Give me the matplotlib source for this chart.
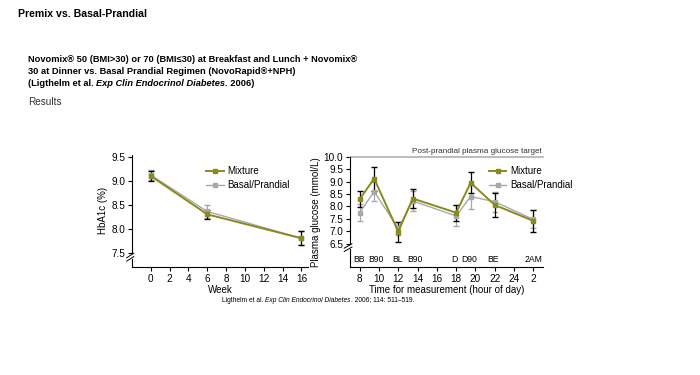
import matplotlib
matplotlib.use("Agg")
import matplotlib.pyplot as plt
import matplotlib.transforms as mtransforms
from matplotlib.lines import Line2D

plt.rcParams['font.family'] = ['Liberation Sans', 'DejaVu Sans']

OLIVE = '#8a8a1c'
GREY = '#a8a8a8'

# HbA1c over time
weeks = [0, 6, 16]
hba1c_mix = [9.10, 8.30, 7.80]
hba1c_mix_err = [0.10, 0.10, 0.15]
hba1c_bp = [9.12, 8.36, 7.80]
hba1c_bp_err = [0.10, 0.14, 0.15]

# Plasma glucose over the day (hour; 26 = 2 AM next day)
hours = [8, 9.5, 12, 13.5, 18, 19.5, 22, 26]
point_names = ['BB', 'B90', 'BL', 'B90', 'D', 'D90', 'BE', '2AM']
name_x = [7.9, 9.7, 11.9, 13.7, 17.8, 19.4, 21.8, 26]
glu_mix = [8.29, 9.12, 6.99, 8.32, 7.75, 8.95, 8.06, 7.42]
glu_mix_err = [0.32, 0.48, 0.40, 0.38, 0.32, 0.42, 0.48, 0.44]
glu_bp = [7.75, 8.60, 7.12, 8.22, 7.62, 8.40, 8.19, 7.48]
glu_bp_err = [0.35, 0.40, 0.25, 0.42, 0.42, 0.50, 0.40, 0.36]
hour_ticks = [8, 10, 12, 14, 16, 18, 20, 22, 24, 26]
hour_labels = ['8', '10', '12', '14', '16', '18', '20', '22', '24', '2']
target = 10.0

fig = plt.figure(figsize=(7, 3.75), dpi=100)
fig.patch.set_facecolor('white')

# header texts
fig.text(18 / 700, 1 - 14 / 375, "Premix vs. Basal-Prandial", fontsize=7.6,
         fontweight='bold', va='center', ha='left')
fig.text(28 / 700, 1 - 60 / 375,
         "Novomix\u00ae 50 (BMI>30) or 70 (BMI\u226430) at Breakfast and Lunch + Novomix\u00ae",
         fontsize=6.7, fontweight='bold', va='center')
fig.text(28 / 700, 1 - 72 / 375,
         "30 at Dinner vs. Basal Prandial Regimen (NovoRapid\u00ae+NPH)",
         fontsize=6.7, fontweight='bold', va='center')
t1 = fig.text(28 / 700, 1 - 84 / 375, "(Ligthelm et al. ", fontsize=6.7,
              fontweight='bold', va='center')
t2 = fig.text(0, 0, "Exp Clin Endocrinol Diabetes", fontsize=6.7, fontweight='bold',
              style='italic', va='center')
t3 = fig.text(0, 0, ". 2006)", fontsize=6.7, fontweight='bold', va='center')
fig.canvas.draw()
r = fig.canvas.get_renderer()


def chain(prev, nxt):
    bb = prev.get_window_extent(r).transformed(fig.transFigure.inverted())
    nxt.set_position((bb.x1, prev.get_position()[1]))


chain(t1, t2)
fig.canvas.draw()
chain(t2, t3)
fig.text(28 / 700, 1 - 102 / 375, "Results", fontsize=7.2, color='#333333', va='center')

# footnote
f1 = fig.text(0, 1 - 300 / 375, "Ligthelm et al. ", fontsize=4.8, va='center')
f2 = fig.text(0, 1 - 300 / 375, "Exp Clin Endocrinol Diabetes", fontsize=4.8,
              style='italic', va='center')
f3 = fig.text(0, 1 - 300 / 375, ". 2006; 114: 511\u2013519.", fontsize=4.8, va='center')
fig.canvas.draw()
w = sum(t.get_window_extent(r).width for t in (f1, f2, f3)) / 700
f1.set_position((318 / 700 - w / 2, 1 - 300 / 375))
fig.canvas.draw()
chain(f1, f2)
fig.canvas.draw()
chain(f2, f3)


def style_axis(ax, brk_y):
    for s in ('top', 'right'):
        ax.spines[s].set_visible(False)
    lo, hi = ax.get_ylim()
    span = hi - lo
    ax.spines['left'].set_bounds(brk_y + 0.05 * span, hi)
    ax.tick_params(axis='both', direction='out', length=3, width=0.8, labelsize=7.2, pad=2)
    # axis break marks on the y spine
    tr = mtransforms.blended_transform_factory(ax.transAxes, ax.transData)
    ax.plot([0, 0], [lo, brk_y], transform=tr, color='black', lw=0.8, clip_on=False)
    for dy in (0.0, 0.03 * span):
        ax.plot([-0.03, 0.01], [brk_y + dy - 0.02 * span, brk_y + dy + 0.02 * span],
                transform=tr, color='black', lw=0.7, clip_on=False)


def add_legend(ax, anchor):
    handles = [Line2D([], [], color=OLIVE, marker='s', ms=3, lw=1.4),
               Line2D([], [], color=GREY, marker='s', ms=2.5, lw=1.0)]
    ax.legend(handles, ['Mixture', 'Basal/Prandial'], loc='upper left',
              bbox_to_anchor=anchor, frameon=False, fontsize=7, handlelength=1.8,
              handletextpad=0.4, labelspacing=0.4, borderaxespad=0)


# Left panel: HbA1c
ax1 = fig.add_axes([132 / 700, 1 - 267 / 375, 176 / 700, 112.5 / 375])
ax1.set_xlim(-2, 16.7)
ax1.set_ylim(7.2, 9.55)
ax1.errorbar(weeks, hba1c_bp, yerr=hba1c_bp_err, color=GREY, marker='s', ms=2.5,
             lw=1.0, ecolor=GREY, elinewidth=0.9, capsize=2)
ax1.errorbar(weeks, hba1c_mix, yerr=hba1c_mix_err, color=OLIVE, marker='s', ms=3,
             lw=1.4, ecolor='black', elinewidth=0.9, capsize=2)
ax1.set_xticks(range(0, 17, 2))
ax1.set_yticks([7.5, 8.0, 8.5, 9.0, 9.5])
ax1.set_yticklabels(['7.5', '8.0', '8.5', '9.0', '9.5'])
ax1.set_xlabel('Week', fontsize=7, labelpad=1)
ax1.set_ylabel('HbA1c (%)', fontsize=7, labelpad=2)
style_axis(ax1, 7.37)
add_legend(ax1, (0.40, 0.93))

# Right panel: plasma glucose
ax2 = fig.add_axes([350 / 700, 1 - 266.7 / 375, 193 / 700, 110 / 375])
ax2.set_xlim(7, 27)
ax2.set_ylim(5.58, 10.0)
ax2.axhline(target, color='#b0b0b0', lw=1.2, clip_on=False)
ax2.text(26.9, target + 0.08, 'Post-prandial plasma glucose target', fontsize=5.9,
         color='#333333', ha='right', va='bottom')
ax2.errorbar(hours, glu_bp, yerr=glu_bp_err, color=GREY, marker='s', ms=2.5,
             lw=1.0, ecolor=GREY, elinewidth=0.9, capsize=2)
ax2.errorbar(hours, glu_mix, yerr=glu_mix_err, color=OLIVE, marker='s', ms=3,
             lw=1.4, ecolor='black', elinewidth=0.9, capsize=2)
ax2.set_xticks(hour_ticks)
ax2.set_xticklabels(hour_labels)
ax2.set_yticks([6.5, 7.0, 7.5, 8.0, 8.5, 9.0, 9.5, 10.0])
ax2.set_yticklabels(['6.5', '7.0', '7.5', '8.0', '8.5', '9.0', '9.5', '10.0'])
ax2.set_xlabel('Time for measurement (hour of day)', fontsize=7, labelpad=1)
ax2.set_ylabel('Plasma glucose (mmol/L)', fontsize=7, labelpad=2)
for nx, nm in zip(name_x, point_names):
    ax2.text(nx, 5.85, nm, fontsize=6.2, ha='center', va='center')
style_axis(ax2, 6.28)
add_legend(ax2, (0.70, 0.95))

fig.savefig('out.png', dpi=100)
